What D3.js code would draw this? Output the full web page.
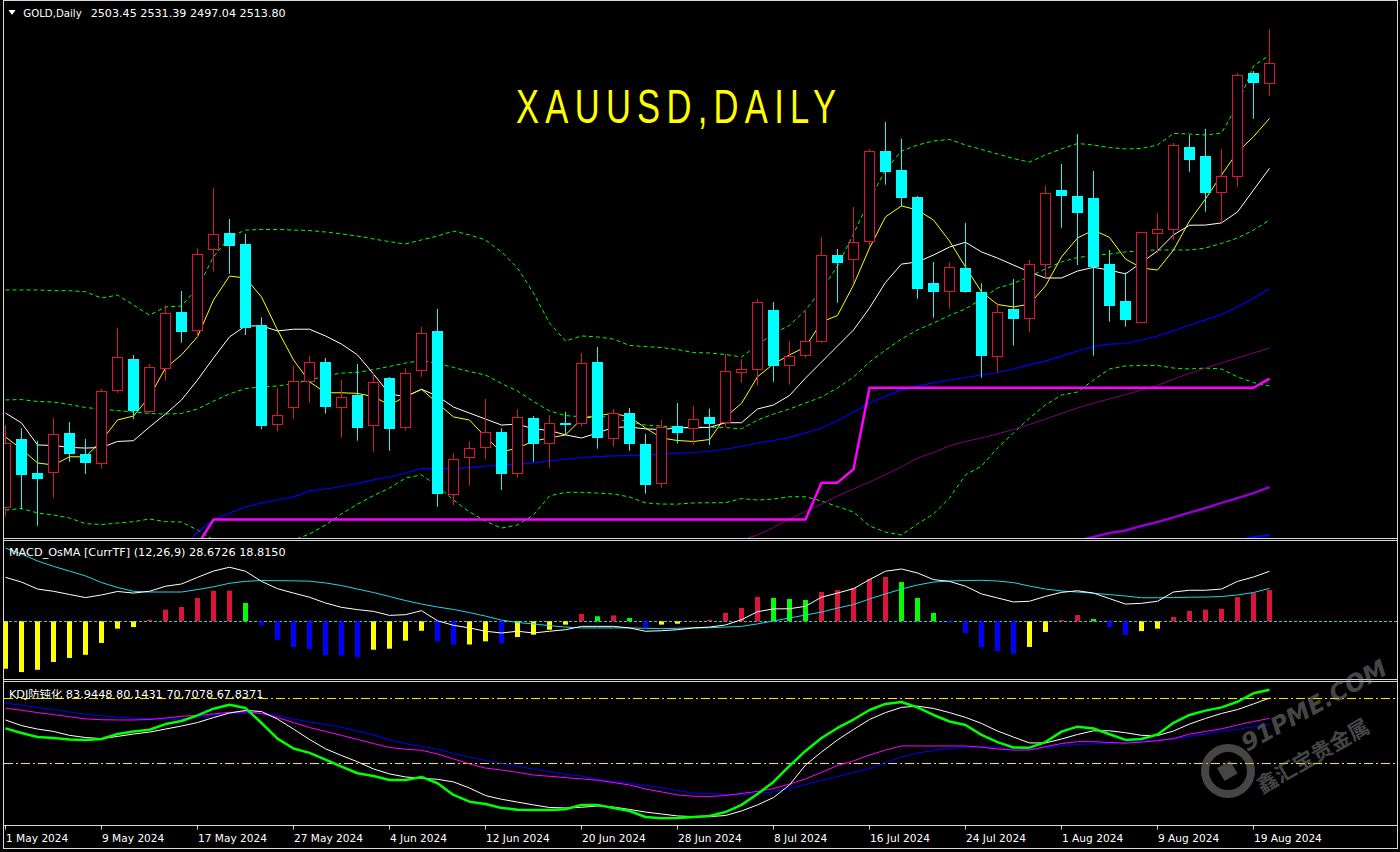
<!DOCTYPE html>
<html>
<head>
<meta charset="utf-8">
<script src="https://cdn.jsdelivr.net/npm/d3@7"></script>
<style>
  html, body { margin: 0; padding: 0; background: #000; }
  svg { display: block; }
</style>
</head>
<body>
<script>
// ---------------- DATA ----------------
const symbolHeader = "GOLD,Daily";
const ohlcHeader = "2503.45 2531.39 2497.04 2513.80";
const chartTitle = "XAUUSD,DAILY";
const macdHeader = "MACD_OsMA [CurrTF] (12,26,9) 28.6726 18.8150";
const kdjHeader = "KDJ防钝化 83.9448 80.1431 70.7078 67.8371";

const tickIndex = [0, 6, 12, 18, 24, 30, 36, 42, 48, 54, 60, 66, 72, 78];
const tickLabels = ["1 May 2024", "9 May 2024", "17 May 2024", "27 May 2024", "4 Jun 2024", "12 Jun 2024",
  "20 Jun 2024", "28 Jun 2024", "8 Jul 2024", "16 Jul 2024", "24 Jul 2024", "1 Aug 2024", "9 Aug 2024", "19 Aug 2024"];

const openP = [2284.3, 2319.4, 2301.8, 2302.1, 2322.5, 2311.5, 2306.8, 2344.4, 2360.8, 2333.7,
  2356.0, 2385.1, 2375.6, 2417.6, 2426.0, 2420.3, 2378.4, 2327.0, 2335.8, 2349.8,
  2359.2, 2335.8, 2342.3, 2326.3, 2350.9, 2325.2, 2354.9, 2375.3, 2290.8, 2310.2,
  2315.1, 2323.0, 2301.6, 2330.2, 2317.0, 2327.5, 2327.3, 2359.2, 2319.7, 2332.8,
  2316.8, 2296.5, 2326.1, 2325.2, 2330.8, 2328.0, 2353.9, 2355.5, 2386.1, 2357.8,
  2362.5, 2369.9, 2414.6, 2412.4, 2421.7, 2468.4, 2458.6, 2444.6, 2400.0, 2395.8,
  2407.9, 2395.5, 2362.2, 2386.8, 2381.8, 2409.8, 2448.2, 2445.1, 2444.1, 2409.9,
  2390.8, 2379.8, 2425.8, 2427.9, 2470.5, 2465.8, 2447.0, 2455.3, 2508.8, 2503.45];
const highP = [2326.6, 2324.9, 2318.5, 2330.2, 2328.2, 2319.4, 2345.3, 2377.0, 2362.9, 2358.2,
  2388.6, 2396.0, 2418.1, 2449.3, 2433.2, 2425.5, 2382.4, 2345.9, 2357.3, 2362.5,
  2361.3, 2349.9, 2358.2, 2353.4, 2351.5, 2356.0, 2377.3, 2386.7, 2312.0, 2318.2,
  2340.1, 2324.9, 2334.8, 2331.3, 2331.8, 2333.4, 2363.9, 2367.0, 2334.9, 2335.4,
  2322.0, 2329.2, 2338.0, 2336.5, 2335.1, 2363.4, 2360.8, 2391.8, 2390.3, 2370.1,
  2385.6, 2423.9, 2417.7, 2439.4, 2469.3, 2483.4, 2474.8, 2445.1, 2411.0, 2410.8,
  2431.2, 2400.0, 2389.6, 2402.2, 2412.0, 2450.3, 2461.7, 2477.2, 2458.1, 2417.2,
  2405.6, 2426.5, 2436.3, 2472.4, 2476.7, 2479.8, 2469.3, 2508.6, 2509.8, 2531.39];
const lowP = [2279.2, 2283.0, 2274.5, 2289.0, 2307.6, 2301.3, 2304.0, 2343.3, 2329.7, 2332.7,
  2349.6, 2369.2, 2372.3, 2406.0, 2404.8, 2373.2, 2324.4, 2323.2, 2329.7, 2338.2,
  2332.5, 2320.1, 2318.5, 2312.8, 2313.3, 2323.7, 2351.6, 2284.3, 2285.2, 2295.2,
  2308.9, 2293.0, 2299.4, 2307.6, 2304.5, 2321.3, 2325.7, 2314.4, 2315.4, 2313.3,
  2291.1, 2294.2, 2317.0, 2316.3, 2316.3, 2325.6, 2348.4, 2347.0, 2349.0, 2347.5,
  2361.5, 2369.1, 2389.9, 2400.3, 2418.9, 2451.0, 2439.6, 2392.0, 2382.2, 2386.8,
  2395.1, 2351.1, 2353.7, 2367.7, 2374.8, 2402.5, 2428.7, 2409.4, 2362.5, 2380.1,
  2377.5, 2379.3, 2415.5, 2422.4, 2457.7, 2437.0, 2431.0, 2449.9, 2485.1, 2497.04];
const closeP = [2317.2, 2300.8, 2298.8, 2321.8, 2311.8, 2306.6, 2344.1, 2361.7, 2334.0, 2356.5,
  2384.4, 2374.9, 2415.0, 2425.3, 2419.3, 2377.0, 2326.1, 2331.6, 2349.2, 2359.4,
  2336.1, 2341.0, 2325.2, 2348.7, 2324.7, 2353.4, 2374.1, 2291.1, 2308.9, 2314.6,
  2322.8, 2301.4, 2330.8, 2317.0, 2327.5, 2326.3, 2358.6, 2320.1, 2332.7, 2317.0,
  2295.7, 2325.4, 2322.6, 2329.6, 2327.3, 2354.6, 2355.5, 2390.1, 2357.3, 2362.2,
  2369.9, 2414.4, 2410.6, 2421.2, 2468.4, 2457.7, 2444.3, 2397.2, 2395.1, 2408.2,
  2395.5, 2362.5, 2384.9, 2381.6, 2409.8, 2446.5, 2445.3, 2436.5, 2408.4, 2388.4,
  2381.1, 2426.3, 2427.9, 2471.4, 2463.9, 2446.8, 2455.3, 2507.6, 2503.8, 2513.80];

const maYellow = [2320.4, 2314.2, 2307.0, 2305.9, 2310.2, 2310.1, 2318.5, 2329.2, 2331.3, 2341.3,
  2356.1, 2362.9, 2372.3, 2391.3, 2403.7, 2402.7, 2392.9, 2375.8, 2360.3, 2349.0,
  2343.3, 2343.3, 2343.0, 2341.3, 2337.0, 2341.3, 2345.1, 2337.9, 2330.8, 2329.2,
  2320.4, 2312.7, 2314.7, 2318.3, 2319.9, 2321.5, 2329.7, 2331.5, 2332.6, 2330.8,
  2325.1, 2319.9, 2318.6, 2318.1, 2319.1, 2330.8, 2337.8, 2351.6, 2358.2, 2362.9,
  2367.0, 2379.9, 2383.3, 2399.1, 2418.2, 2434.3, 2440.0, 2437.9, 2432.7, 2421.8,
  2408.4, 2395.5, 2389.0, 2387.7, 2389.2, 2398.6, 2413.6, 2423.4, 2427.5, 2423.7,
  2412.5, 2407.9, 2406.8, 2417.2, 2432.2, 2443.6, 2456.0, 2467.9, 2475.8, 2485.3];
const maWhite = [2332.8, 2327.7, 2316.3, 2316.0, 2315.0, 2314.7, 2315.0, 2318.1, 2318.5, 2325.6,
  2332.3, 2339.6, 2349.9, 2361.3, 2372.2, 2377.9, 2377.9, 2375.3, 2376.2, 2376.2,
  2372.7, 2368.5, 2362.9, 2353.0, 2342.7, 2341.3, 2345.1, 2341.6, 2335.9, 2332.8,
  2329.7, 2326.6, 2327.1, 2324.6, 2323.8, 2321.5, 2319.9, 2322.5, 2325.4, 2325.6,
  2324.6, 2324.3, 2325.1, 2325.4, 2325.4, 2327.8, 2327.8, 2334.9, 2337.0, 2341.9,
  2350.9, 2359.2, 2367.5, 2375.8, 2387.2, 2400.4, 2409.9, 2411.0, 2414.6, 2418.7,
  2421.2, 2416.2, 2413.0, 2409.4, 2405.8, 2402.7, 2402.7, 2406.3, 2408.2, 2406.8,
  2404.8, 2410.7, 2416.7, 2425.0, 2430.0, 2430.1, 2431.2, 2436.9, 2448.2, 2459.5];
const bbUpper = [2396.5, 2396.5, 2396.5, 2396.2, 2396.1, 2395.6, 2392.3, 2393.9, 2388.7, 2383.5,
  2387.7, 2388.2, 2397.5, 2413.6, 2423.9, 2427.5, 2427.8, 2427.8, 2427.5, 2427.3,
  2426.5, 2425.5, 2424.4, 2422.9, 2421.5, 2420.3, 2422.4, 2424.4, 2427.0, 2425.0,
  2422.4, 2416.2, 2407.9, 2394.9, 2379.4, 2370.1, 2372.7, 2372.2, 2371.1, 2367.8,
  2367.2, 2366.7, 2365.7, 2364.1, 2363.9, 2363.1, 2361.8, 2368.0, 2374.1, 2378.1,
  2386.1, 2396.5, 2408.9, 2425.5, 2443.1, 2458.6, 2468.4, 2471.5, 2473.6, 2474.4,
  2471.5, 2469.2, 2466.9, 2464.5, 2462.7, 2466.4, 2469.5, 2472.3, 2471.5, 2470.2,
  2469.5, 2469.7, 2471.5, 2477.5, 2477.2, 2476.7, 2477.7, 2492.2, 2512.4, 2518.1];
const bbMiddle = [2339.6, 2339.8, 2338.8, 2338.5, 2337.2, 2335.7, 2334.8, 2334.1, 2333.4, 2332.6,
  2332.3, 2332.6, 2334.9, 2339.0, 2342.7, 2345.5, 2346.3, 2346.8, 2348.1, 2349.9,
  2352.0, 2353.5, 2353.8, 2355.3, 2356.9, 2358.7, 2360.0, 2358.5, 2356.4, 2354.3,
  2352.5, 2348.1, 2344.2, 2338.8, 2333.9, 2331.5, 2330.9, 2331.3, 2330.2, 2328.2,
  2326.6, 2326.1, 2325.3, 2325.1, 2325.4, 2325.3, 2324.6, 2329.2, 2332.3, 2334.9,
  2338.0, 2341.1, 2345.8, 2351.5, 2359.2, 2365.4, 2371.1, 2375.8, 2379.4, 2383.3,
  2386.7, 2391.8, 2397.5, 2399.9, 2403.5, 2407.4, 2411.0, 2413.3, 2414.3, 2415.1,
  2416.2, 2416.9, 2417.2, 2417.2, 2417.2, 2418.2, 2420.6, 2423.4, 2427.5, 2432.7];
const bbLower = [2282.6, 2283.4, 2281.1, 2280.1, 2278.5, 2275.6, 2275.1, 2275.9, 2276.6, 2278.0,
  2276.6, 2276.4, 2272.3, 2267.1, 2264.5, 2263.0, 2263.0, 2264.5, 2267.1, 2270.2,
  2274.9, 2280.6, 2285.7, 2290.1, 2294.0, 2299.2, 2300.8, 2295.1, 2287.8, 2281.6,
  2276.9, 2273.3, 2274.9, 2280.1, 2289.9, 2291.8, 2291.8, 2291.4, 2290.9, 2289.4,
  2286.3, 2285.7, 2285.7, 2286.3, 2286.4, 2286.4, 2288.6, 2287.8, 2288.3, 2289.5,
  2289.5, 2287.3, 2284.4, 2281.6, 2274.4, 2271.2, 2269.7, 2275.4, 2280.6, 2288.8,
  2300.8, 2305.4, 2314.7, 2322.5, 2330.2, 2337.0, 2342.1, 2343.7, 2349.9, 2355.6,
  2357.2, 2357.4, 2357.4, 2356.1, 2355.6, 2356.1, 2355.6, 2351.5, 2348.6, 2346.8];
const maBlue = [null, null, null, null, null, null, null, null, null, null,
  null, 2262.0, 2271.3, 2277.5, 2281.1, 2284.2, 2286.3, 2287.8, 2289.4, 2292.5,
  2293.5, 2294.8, 2296.4, 2298.2, 2299.7, 2301.8, 2304.1, 2304.2, 2303.9, 2304.6,
  2305.4, 2305.9, 2306.4, 2307.0, 2308.0, 2309.0, 2309.8, 2310.3, 2310.6, 2310.8,
  2311.1, 2311.6, 2312.1, 2312.4, 2312.9, 2314.2, 2315.5, 2317.3, 2318.6, 2320.2,
  2322.5, 2325.1, 2328.7, 2333.4, 2338.0, 2341.6, 2344.7, 2346.8, 2348.4, 2349.9,
  2351.2, 2352.5, 2353.8, 2355.6, 2357.7, 2359.7, 2362.3, 2364.9, 2367.2, 2368.5,
  2368.8, 2370.6, 2372.7, 2375.3, 2378.4, 2381.0, 2383.8, 2387.7, 2392.3, 2397.0];
const maPurple = [null, null, null, null, null, null, null, null, null, null,
  null, null, null, null, null, null, null, null, null, null,
  null, null, null, null, null, null, null, null, null, null,
  null, null, null, null, null, null, null, null, null, null,
  null, null, null, null, null, 2264.5, 2267.1, 2269.7, 2273.6, 2278.0,
  2281.9, 2285.7, 2289.9, 2293.5, 2297.1, 2301.0, 2304.9, 2309.5, 2312.4, 2315.8,
  2318.1, 2319.9, 2322.0, 2324.3, 2326.9, 2329.7, 2332.6, 2335.4, 2338.0, 2340.1,
  2342.4, 2344.7, 2347.1, 2350.4, 2353.3, 2356.1, 2358.7, 2361.3, 2363.9, 2366.5];
const maViolet = [null, null, null, null, null, null, null, null, null, null,
  null, null, null, null, null, null, null, null, null, null,
  null, null, null, null, null, null, null, null, null, null,
  null, null, null, null, null, null, null, null, null, null,
  null, null, null, null, null, null, null, null, null, null,
  null, null, null, null, null, null, null, null, null, null,
  null, null, null, null, null, null, 2264.5, 2266.6, 2268.7, 2270.7,
  2272.0, 2274.4, 2276.4, 2278.8, 2281.3, 2283.7, 2286.3, 2288.8, 2291.4, 2294.5];
const maBlue2 = [null, null, null, null, null, null, null, null, null, null,
  null, null, null, null, null, null, null, null, null, null,
  null, null, null, null, null, null, null, null, null, null,
  null, null, null, null, null, null, null, null, null, null,
  null, null, null, null, null, null, null, null, null, null,
  null, null, null, null, null, null, null, null, null, null,
  null, null, null, null, null, null, null, null, null, null,
  null, null, null, null, null, null, 2264.5, 2267.1, 2268.7, 2269.7];
const stopLine = [null, null, null, null, null, null, null, null, null, null,
  null, null, 2264.5, 2277.7, 2277.7, 2277.7, 2277.7, 2277.7, 2277.7, 2277.7,
  2277.7, 2277.7, 2277.7, 2277.7, 2277.7, 2277.7, 2277.7, 2277.7, 2277.7, 2277.7,
  2277.7, 2277.7, 2277.7, 2277.7, 2277.7, 2277.7, 2277.7, 2277.7, 2277.7, 2277.7,
  2277.7, 2277.7, 2277.7, 2277.7, 2277.7, 2277.7, 2277.7, 2277.7, 2277.7, 2277.7,
  2277.7, 2296.8, 2296.8, 2303.7, 2345.9, 2345.9, 2345.9, 2345.9, 2345.9, 2345.9,
  2345.9, 2345.9, 2345.9, 2345.9, 2345.9, 2345.9, 2345.9, 2345.9, 2345.9, 2345.9,
  2345.9, 2345.9, 2345.9, 2345.9, 2345.9, 2345.9, 2345.9, 2345.9, 2345.9, 2350.6];

const macdHist = [-27.2, -29.1, -27.8, -23.3, -21.0, -19.2, -12.4, -4.2, -3.3, 0.9,
  6.7, 8.2, 13.4, 17.5, 17.6, 10.5, -2.3, -10.6, -14.7, -15.9,
  -19.5, -19.7, -20.5, -16.3, -15.7, -11.1, -5.4, -11.5, -13.4, -13.3,
  -11.5, -12.8, -9.0, -7.7, -4.8, -1.9, 4.2, 2.9, 3.4, 1.9,
  -3.4, -1.9, -1.4, 0.3, 0.9, 4.8, 7.6, 13.9, 13.4, 12.8,
  12.2, 16.8, 17.9, 19.1, 24.3, 25.4, 22.5, 13.4, 4.8, -0.8,
  -6.7, -14.9, -17.2, -18.6, -14.7, -6.1, 0.7, 3.6, 1.3, -3.3,
  -7.9, -5.6, -4.2, 2.5, 5.9, 6.7, 7.2, 13.9, 16.2, 17.9];
const macdHistClass = ["Y","Y","Y","Y","Y","Y","Y","Y","Y","R",
  "R","R","R","R","R","G","B","B","B","B",
  "B","B","B","Y","Y","Y","Y","B","B","Y",
  "Y","B","Y","Y","Y","Y","R","G","R","G",
  "B","Y","Y","R","R","R","R","R","G","G",
  "G","R","R","R","R","R","G","G","G","B",
  "B","B","B","B","Y","Y","R","R","G","B",
  "B","Y","Y","R","R","R","R","R","R","R"];
const macdMain = [25.2, 22.5, 18.5, 17.2, 15.4, 13.6, 15.1, 17.1, 16.2, 17.2,
  20.1, 21.4, 25.2, 28.8, 31.0, 28.7, 22.9, 18.7, 16.2, 13.8,
  10.5, 8.0, 6.7, 5.7, 3.4, 3.8, 6.1, 0.3, -2.3, -3.8,
  -5.7, -6.7, -5.7, -6.7, -5.7, -4.8, -2.9, -2.9, -2.9, -3.8,
  -5.7, -5.4, -4.8, -3.8, -3.3, -2.1, 0.9, 5.5, 7.1, 7.2,
  8.6, 13.8, 16.2, 18.7, 23.9, 28.7, 30.0, 27.7, 23.9, 22.9,
  20.1, 15.7, 13.4, 11.1, 11.5, 14.3, 16.6, 17.5, 16.2, 13.0,
  9.9, 10.3, 11.5, 16.8, 17.8, 17.8, 18.5, 22.9, 25.4, 28.67];
const macdSignal = [42.0, 38.6, 34.6, 31.5, 28.8, 26.0, 22.2, 19.4, 17.2, 16.8,
  16.8, 16.8, 18.2, 19.8, 21.8, 22.9, 23.4, 23.3, 23.2, 23.0,
  22.0, 20.5, 18.5, 16.5, 14.2, 11.9, 9.9, 8.2, 6.8, 5.0,
  3.0, 0.7, -0.7, -1.5, -2.5, -3.3, -3.8, -3.8, -3.8, -3.8,
  -4.0, -4.2, -4.0, -3.8, -3.7, -3.3, -2.9, -1.5, 0.2, 1.9,
  3.6, 5.3, 7.6, 9.6, 12.8, 15.7, 18.5, 20.8, 22.5, 23.1,
  23.4, 23.5, 23.1, 22.2, 20.2, 18.5, 17.4, 16.8, 16.1, 15.3,
  14.5, 13.5, 13.5, 13.6, 13.8, 13.9, 14.2, 15.1, 16.5, 18.82];

const kdjLevels = [80, 50];
const kdjGreen = [66.1, 64.0, 62.1, 61.7, 61.0, 60.8, 61.2, 63.5, 64.7, 65.5,
  68.1, 69.5, 72.1, 75.2, 77.0, 75.5, 68.6, 61.4, 56.8, 54.8,
  51.7, 48.5, 45.4, 44.1, 42.3, 42.3, 43.7, 40.8, 35.4, 32.3,
  31.2, 29.4, 28.6, 28.4, 28.4, 28.8, 30.8, 30.8, 29.4, 28.0,
  25.2, 24.6, 24.8, 25.2, 25.7, 27.5, 30.8, 35.8, 41.4, 48.8,
  55.7, 61.7, 66.3, 70.2, 74.6, 77.4, 78.3, 75.8, 72.3, 69.3,
  67.7, 63.1, 59.8, 57.3, 57.2, 59.8, 64.6, 66.9, 66.1, 63.4,
  60.8, 61.2, 63.3, 68.7, 72.3, 74.3, 75.8, 78.4, 82.3, 83.9];
const kdjWhite = [70.0, 67.4, 65.8, 64.7, 62.9, 61.9, 61.4, 62.4, 63.5, 64.4,
  65.8, 67.2, 68.8, 71.1, 73.2, 74.4, 73.9, 70.4, 65.8, 61.0,
  56.7, 53.6, 50.7, 47.4, 45.1, 43.7, 43.1, 42.6, 41.4, 38.6,
  35.1, 33.4, 32.1, 30.8, 29.6, 29.4, 29.7, 30.3, 29.8, 28.7,
  27.5, 26.6, 25.7, 25.4, 25.4, 25.9, 28.0, 30.8, 34.2, 40.0,
  49.2, 55.2, 60.8, 65.6, 70.2, 73.4, 75.8, 76.4, 75.3, 73.4,
  71.2, 68.4, 64.9, 62.1, 59.4, 59.4, 61.2, 63.3, 65.0, 65.0,
  64.1, 62.9, 62.8, 64.9, 68.1, 70.7, 73.0, 74.8, 77.4, 80.1];
const kdjMagenta = [75.4, 74.5, 73.4, 72.5, 71.5, 70.5, 70.1, 70.0, 70.0, 70.2,
  70.9, 71.7, 72.1, 72.8, 73.5, 73.8, 73.0, 71.1, 68.8, 66.5,
  64.7, 62.9, 61.0, 59.1, 57.3, 56.5, 56.0, 54.3, 52.0, 49.7,
  47.8, 46.9, 45.8, 44.6, 44.0, 43.4, 42.8, 42.2, 41.1, 40.0,
  38.1, 36.8, 35.4, 34.8, 34.7, 35.1, 36.1, 37.0, 38.4, 40.4,
  42.8, 45.8, 49.0, 51.1, 53.8, 56.1, 58.0, 58.0, 58.0, 58.0,
  58.0, 57.4, 56.6, 56.1, 56.1, 57.7, 59.1, 60.0, 60.0, 59.6,
  59.3, 59.8, 60.4, 61.4, 63.5, 64.7, 65.9, 67.7, 69.3, 70.7];
const kdjBlue = [77.7, 76.8, 75.8, 74.7, 73.7, 72.6, 71.9, 71.4, 70.8, 70.6,
  70.4, 70.4, 71.1, 72.2, 73.0, 73.1, 73.1, 72.1, 70.4, 69.1,
  67.9, 66.6, 64.9, 63.1, 60.8, 59.1, 57.9, 56.5, 54.5, 52.9,
  51.3, 49.9, 48.5, 47.4, 46.1, 44.9, 44.1, 42.7, 41.6, 40.7,
  39.8, 38.8, 37.4, 36.3, 36.0, 35.6, 35.5, 36.1, 36.8, 38.4,
  40.2, 42.1, 43.9, 45.8, 47.6, 50.4, 52.9, 54.7, 55.9, 56.9,
  57.4, 57.7, 57.3, 56.9, 56.5, 57.3, 58.1, 58.7, 59.0, 59.3,
  59.5, 60.3, 60.8, 61.2, 62.5, 63.5, 64.9, 65.6, 67.0, 67.8];

// ---------------- DRAWING ----------------
const W = 1400, H = 852;
const svg = d3.select("body").append("svg")
  .attr("width", W).attr("height", H)
  .style("background", "#000");

const idx = d3.range(openP.length);
const x = d3.scaleLinear().domain([0, 79]).range([5.5, 1269.5]);
const yP = d3.scaleLinear().domain([2268.15, 2546.56]).range([538, 0]);
const yM = d3.scaleLinear().domain([-33.08, 46.04]).range([679, 541]);
const yK = d3.scaleLinear().domain([21.29, 87.52]).range([825.5, 682]);

const defs = svg.append("defs");
function clip(id, y0, h) {
  defs.append("clipPath").attr("id", id).append("rect")
    .attr("x", 4).attr("y", y0).attr("width", 1393).attr("height", h);
}
clip("cMain", 1, 537);
clip("cMacd", 541, 138);
clip("cKdj", 682, 143.5);

const gMain = svg.append("g").attr("clip-path", "url(#cMain)");
const gMacd = svg.append("g").attr("clip-path", "url(#cMacd)");
const gKdj = svg.append("g").attr("clip-path", "url(#cKdj)");

function drawLine(g, data, yScale, color, width, dash) {
  const ln = d3.line()
    .defined(d => d != null)
    .x((d, i) => x(i))
    .y(d => yScale(d));
  const p = g.append("path").datum(data)
    .attr("d", ln)
    .attr("fill", "none")
    .attr("stroke", color)
    .attr("stroke-width", width)
    .attr("stroke-linejoin", "round");
  if (dash) p.attr("stroke-dasharray", dash);
  return p;
}

// main panel lines (behind candles)
drawLine(gMain, bbUpper, yP, "#00FF00", 1, "4,3");
drawLine(gMain, bbMiddle, yP, "#00FF00", 1, "4,3");
drawLine(gMain, bbLower, yP, "#00FF00", 1, "4,3");
drawLine(gMain, maPurple, yP, "#800080", 1);
drawLine(gMain, maViolet, yP, "#9400D3", 2.5);
drawLine(gMain, maBlue2, yP, "#0000FF", 2);
drawLine(gMain, maBlue, yP, "#0000FF", 1.2);
drawLine(gMain, stopLine, yP, "#FF00FF", 2.5);
drawLine(gMain, maWhite, yP, "#FFFFFF", 1);
drawLine(gMain, maYellow, yP, "#FFFF00", 1);

// candles
const UP = "#DC143C", DOWN = "#00FFFF";
const candles = gMain.append("g").selectAll("g").data(idx).join("g");
candles.append("line")
  .attr("x1", i => x(i)).attr("x2", i => x(i))
  .attr("y1", i => yP(highP[i])).attr("y2", i => yP(lowP[i]))
  .attr("stroke", i => closeP[i] >= openP[i] ? UP : DOWN)
  .attr("stroke-width", 1);
candles.append("rect")
  .attr("x", i => closeP[i] >= openP[i] ? x(i) - 5 : x(i) - 5.5)
  .attr("width", i => closeP[i] >= openP[i] ? 10 : 11)
  .attr("y", i => {
    const t = yP(Math.max(openP[i], closeP[i]));
    return closeP[i] >= openP[i] ? Math.round(t) + 0.5 : Math.round(t);
  })
  .attr("height", i => Math.max(1, Math.round(Math.abs(yP(openP[i]) - yP(closeP[i])))))
  .attr("fill", i => closeP[i] >= openP[i] ? "#000" : DOWN)
  .attr("stroke", i => closeP[i] >= openP[i] ? UP : "none")
  .attr("stroke-width", 1);

// MACD panel
gMacd.append("line")
  .attr("x1", 4).attr("x2", 1397)
  .attr("y1", Math.round(yM(0)) + 0.5).attr("y2", Math.round(yM(0)) + 0.5)
  .attr("stroke", "#3CC8C8").attr("stroke-width", 1).attr("stroke-dasharray", "3,2");
const histColor = { Y: "#FFFF00", B: "#0000FF", R: "#DC143C", G: "#00FF00" };
gMacd.append("g").selectAll("rect").data(idx).join("rect")
  .attr("x", i => x(i) - 2.5)
  .attr("width", 5)
  .attr("y", i => Math.min(yM(0), yM(macdHist[i])))
  .attr("height", i => Math.max(1, Math.abs(yM(macdHist[i]) - yM(0))))
  .attr("fill", i => histColor[macdHistClass[i]]);
drawLine(gMacd, macdSignal, yM, "#1ED8E8", 1);
drawLine(gMacd, macdMain, yM, "#FFFFFF", 1);

// KDJ panel
kdjLevels.forEach(v => {
  gKdj.append("line")
    .attr("x1", 4).attr("x2", 1397)
    .attr("y1", Math.round(yK(v)) + 0.5).attr("y2", Math.round(yK(v)) + 0.5)
    .attr("stroke", "#FFE600").attr("stroke-width", 1).attr("stroke-dasharray", "9,3,2,3");
});
drawLine(gKdj, kdjBlue, yK, "#0000FF", 1);
drawLine(gKdj, kdjMagenta, yK, "#FF00FF", 1);
drawLine(gKdj, kdjWhite, yK, "#FFFFFF", 1);
drawLine(gKdj, kdjGreen, yK, "#00FF00", 2.5);

// frames & separators
const frame = svg.append("g").attr("stroke", "#D8D8D8").attr("stroke-width", 1).attr("fill", "none");
frame.append("rect").attr("x", 3.5).attr("y", 0.5).attr("width", 1394).attr("height", 848);
[538.5, 540.5, 679.5, 681.5, 825.5].forEach(yy => {
  frame.append("line").attr("x1", 3.5).attr("x2", 1397.5).attr("y1", yy).attr("y2", yy);
});

// time axis
const axis = d3.axisBottom(x)
  .tickValues(tickIndex)
  .tickSize(4)
  .tickFormat((d, k) => tickLabels[k]);
const gAxis = svg.append("g").attr("transform", "translate(0,825.5)").call(axis);
gAxis.select(".domain").remove();
gAxis.selectAll(".tick line").attr("stroke", "#D8D8D8").attr("transform", "translate(-0.5,0)");
gAxis.selectAll(".tick text")
  .attr("fill", "#FFFFFF")
  .attr("y", 16.5).attr("dy", 0).attr("dx", 0)
  .attr("text-anchor", "start")
  .style("font-family", "'DejaVu Sans', Tahoma, sans-serif")
  .style("font-size", "10.6px");

// header texts
const txtFont = "'DejaVu Sans', Tahoma, sans-serif";
svg.append("path").attr("d", "M8.5,10 L15.5,10 L12,15 Z").attr("fill", "#FFFFFF");
svg.append("text").attr("x", 23.3).attr("y", 16.5).text(symbolHeader)
  .attr("fill", "#FFFFFF").style("font-family", txtFont).style("font-size", "10.5px")
  .attr("textLength", 58.4).attr("lengthAdjust", "spacingAndGlyphs");
svg.append("text").attr("x", 90.7).attr("y", 16.5).text(ohlcHeader)
  .attr("fill", "#FFFFFF").style("font-family", txtFont).style("font-size", "10.5px")
  .attr("textLength", 195).attr("lengthAdjust", "spacingAndGlyphs");
svg.append("text").attr("x", 8.9).attr("y", 556).text(macdHeader)
  .attr("fill", "#FFFFFF").style("font-family", txtFont).style("font-size", "10.5px")
  .attr("textLength", 276.8).attr("lengthAdjust", "spacingAndGlyphs");
svg.append("text").attr("x", 8.9).attr("y", 698).text(kdjHeader)
  .attr("fill", "#FFFFFF").style("font-family", "'DejaVu Sans', 'Noto Sans CJK SC', sans-serif").style("font-size", "10.5px")
  .attr("textLength", 254.5).attr("lengthAdjust", "spacingAndGlyphs");

// title: condensed glyphs with wide spacing
const titleScale = 0.72;
svg.append("text")
  .attr("transform", `translate(516,123.3) scale(${titleScale},1)`)
  .attr("x", 0).attr("y", 0).text(chartTitle)
  .attr("fill", "#FFFF00")
  .style("font-family", "'Liberation Sans', Arial, sans-serif")
  .style("font-size", "48px")
  .attr("textLength", 320 / titleScale).attr("lengthAdjust", "spacing");

// watermark
const wm = svg.append("g").attr("opacity", 0.45);
wm.append("circle").attr("cx", 1228).attr("cy", 771).attr("r", 23)
  .attr("fill", "none").attr("stroke", "#9a9a9a").attr("stroke-width", 8);
wm.append("rect").attr("x", 1220).attr("y", 763).attr("width", 15).attr("height", 15)
  .attr("fill", "#9a9a9a").attr("transform", "rotate(-30,1228,771)");
wm.append("text").attr("transform", "translate(1247,752) rotate(-29)").text("91PME.COM")
  .attr("fill", "#9a9a9a").style("font-family", "'DejaVu Sans', sans-serif")
  .style("font-size", "24px").style("font-weight", "bold").style("font-style", "italic");
wm.append("text").attr("transform", "translate(1262,794) rotate(-30)").text("鑫汇宝贵金属")
  .attr("fill", "#9a9a9a").style("font-family", "'Noto Sans CJK SC', sans-serif")
  .style("font-size", "21px").style("font-weight", "bold");
</script>
</body>
</html>
